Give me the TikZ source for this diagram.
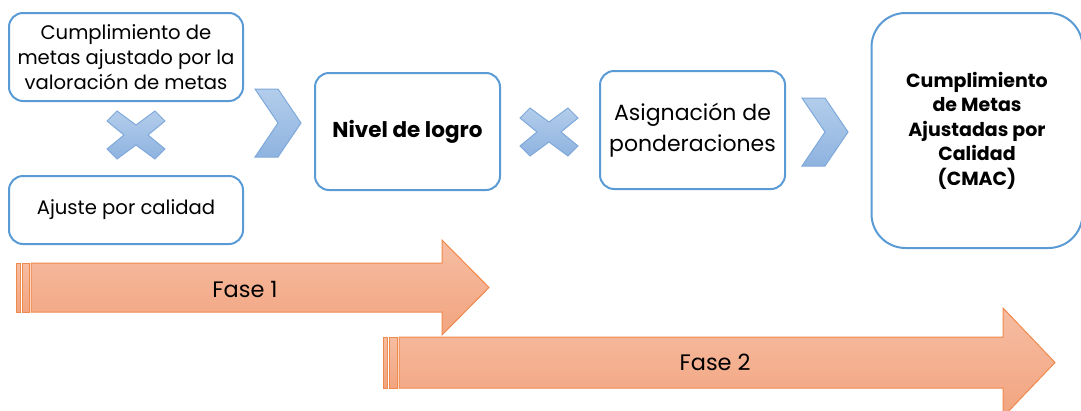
\documentclass[tikz,border=0pt]{standalone}
\usepackage{fontspec}
\setmainfont{Poppins}
\definecolor{boxblue}{HTML}{5B9BD5}
\definecolor{chevline}{HTML}{7FA9DA}
\definecolor{chevtop}{HTML}{B3CDEB}
\definecolor{chevbot}{HTML}{8EB3E0}
\definecolor{faseline}{HTML}{F0894C}
\definecolor{fasetop}{HTML}{F6BDA2}
\definecolor{fasebot}{HTML}{F2A47F}
\begin{document}
\begin{tikzpicture}[x=1pt,y=-1pt,
    box/.style={draw=boxblue,line width=2pt,rounded corners=14pt,fill=white,
      align=center,inner sep=0pt,font=\fontsize{19.6}{25}\selectfont},
    chev/.style={draw=chevline,line width=1pt,top color=chevtop,bottom color=chevbot},
    fase/.style={draw=faseline,line width=1pt,top color=fasetop,bottom color=fasebot},
    faselabel/.style={font=\fontsize{22.4}{26}\selectfont,inner sep=0pt}]
  \useasboundingbox (0,0) rectangle (1081,410);
  % boxes
  \node[box,minimum width=234pt,minimum height=88pt] (meta) at (126,57)
    {Cumplimiento de\\metas ajustado por la\\valoración de metas};
  \node[box,minimum width=234pt,minimum height=68pt] (ajuste) at (126,210)
    {Ajuste por calidad};
  \node[box,minimum width=185pt,minimum height=117pt,font=\fontsize{21.5}{25}\selectfont\bfseries]
    (nivel) at (407.5,131.5) {Nivel de logro};
  \node[box,minimum width=185pt,minimum height=118pt,font=\fontsize{22}{31}\selectfont]
    (pond) at (692.5,130) {Asignación de\\ponderaciones};
  \node[box,minimum width=211pt,minimum height=235pt,rounded corners=34pt,
    font=\fontsize{19}{24.5}\selectfont\bfseries] (cmac) at (977,130.5)
    {Cumplimiento\\de Metas\\Ajustadas por\\Calidad\\(CMAC)};
  % multiply signs
  \foreach \cx/\cy in {136/135,549/132}
    \draw[chev,shift={(\cx,\cy)}] (-29,-14) -- (-19,-24) -- (0,-10) -- (19,-24)
      -- (29,-14) -- (12,0) -- (29,14) -- (19,24) -- (0,10) -- (-19,24)
      -- (-29,14) -- (-12,0) -- cycle;
  % chevrons
  \foreach \x/\y in {255/89,802/98}
    \draw[chev,shift={(\x,\y)}] (0,0) -- (23,0) -- (46,34) -- (23,68) -- (0,68)
      -- (23,34) -- cycle;
  % phases
  \draw[fase] (399,337) -- (1003,337) -- (1003,308) -- (1055,362.5) -- (1003,417)
    -- (1003,388) -- (399,388) -- cycle;
  \draw[fase] (383,337) rectangle (387,388);
  \draw[fase] (389,337) rectangle (397,388);
  \draw[fase] (31,263) -- (442,263) -- (442,240) -- (489,287.5) -- (442,335)
    -- (442,312) -- (31,312) -- cycle;
  \draw[fase] (16,263) rectangle (20,312);
  \draw[fase] (22,263) rectangle (29,312);
  \node[faselabel] (fase1) at (245,289) {Fase 1};
  \node[faselabel] (fase2) at (715,362) {Fase 2};
\end{tikzpicture}
\end{document}
